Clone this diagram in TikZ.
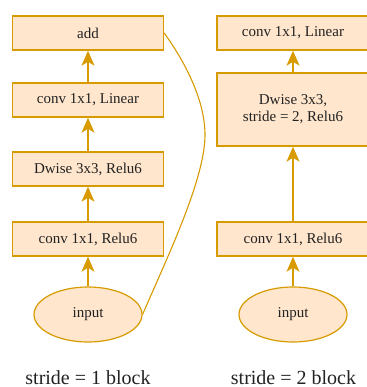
\documentclass[tikz,border=0pt]{standalone}
\usepackage{fontspec}
\setmainfont{Liberation Serif}
\usetikzlibrary{arrows.meta,shapes.geometric}
\definecolor{boxfill}{HTML}{FFE6CC}
\definecolor{boxline}{HTML}{D79B00}
\definecolor{txt}{HTML}{222222}
\tikzset{
  blockbox/.style={draw=boxline, fill=boxfill, line width=1.4pt, minimum height=34pt, inner sep=0pt, align=center, text=txt, font=\fontsize{15}{17}\selectfont},
  inputnode/.style={ellipse, draw=boxline, fill=boxfill, line width=1.2pt, minimum width=108pt, minimum height=55pt, inner sep=0pt, text=txt, font=\fontsize{15}{17}\selectfont},
  flow/.style={draw=boxline, line width=1.3pt, -{Stealth[length=15pt,width=13pt,inset=4pt]}},
  skip/.style={draw=boxline, line width=1.1pt},
  caption/.style={font=\fontsize{20}{22}\selectfont, inner sep=0pt, anchor=base, text=txt}
}
\begin{document}
\begin{tikzpicture}[x=1pt,y=-1pt]
\useasboundingbox (0,0) rectangle (366,387);
% left column
\node[blockbox, minimum width=151pt] (add) at (88,33) {add};
\node[blockbox, minimum width=151pt] (lin1) at (88,100) {conv 1x1, Linear};
\node[blockbox, minimum width=151pt] (dw1) at (88,169) {Dwise 3x3, Relu6};
\node[blockbox, minimum width=151pt] (relu1) at (88,239) {conv 1x1, Relu6};
\node[inputnode] (in1) at (88,314.5) {input};
\draw[flow] (lin1) -- (add);
\draw[flow] (dw1) -- (lin1);
\draw[flow] (relu1) -- (dw1);
\draw[flow] (in1) -- (relu1);
\coordinate (bend) at (205,135);
\draw[skip] (add.east) .. controls (185,62) and (205,100) .. (bend)
  .. controls (205,180) and (165,262) .. (in1.east);
\node[caption] (cap1) at (88,384) {stride = 1 block};
% right column
\node[blockbox, minimum width=152pt] (lin2) at (293,33) {conv 1x1, Linear};
\node[blockbox, minimum width=152pt, minimum height=73pt] (dw2) at (293,109.5) {Dwise 3x3,\\stride = 2, Relu6};
\node[blockbox, minimum width=152pt] (relu2) at (293,239) {conv 1x1, Relu6};
\node[inputnode] (in2) at (293,314.5) {input};
\draw[flow] (dw2) -- (lin2);
\draw[flow] (relu2) -- (dw2);
\draw[flow] (in2) -- (relu2);
\node[caption] (cap2) at (293.5,384) {stride = 2 block};
\end{tikzpicture}
\end{document}
